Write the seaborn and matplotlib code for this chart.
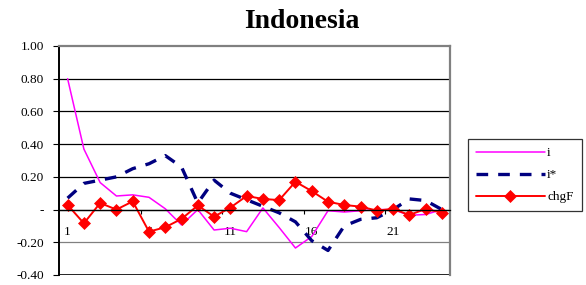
import pandas as pd
import matplotlib
matplotlib.use("Agg")
import matplotlib.pyplot as plt
import matplotlib.ticker as mticker
import seaborn as sns

# --- data ---
periods = list(range(1, 25))
i_vals = [0.80, 0.37, 0.165, 0.083, 0.09, 0.075, 0.005, -0.094, 0.0, -0.125, -0.114, -0.135,
          0.01, -0.11, -0.235, -0.165, -0.007, -0.015, -0.007, 0.0, 0.0, -0.035, -0.03, 0.0]
istar_vals = [0.07, 0.16, 0.18, 0.20, 0.25, 0.28, 0.33, 0.26, 0.04, 0.18, 0.10, 0.06,
              0.02, -0.02, -0.075, -0.19, -0.25, -0.10, -0.06, -0.05, 0.0, 0.065, 0.055, 0.0]
chgf_vals = [0.028, -0.084, 0.04, 0.0, 0.05, -0.135, -0.108, -0.057, 0.025, -0.043, 0.012, 0.083,
             0.065, 0.058, 0.17, 0.113, 0.048, 0.028, 0.018, -0.006, 0.004, -0.033, 0.004, -0.019]
y_ticks = [-0.4, -0.2, 0.0, 0.2, 0.4, 0.6, 0.8, 1.0]
y_labels = ["-0.40", "-0.20", "-", "0.20", "0.40", "0.60", "0.80", "1.00"]
x_labels = ["1", "6", "11", "16", "21"]

df = pd.DataFrame({"period": periods, "i": i_vals, "i*": istar_vals, "chgF": chgf_vals})

sns.set_style("white")
plt.rcParams["font.family"] = ["Liberation Serif", "DejaVu Serif"]
plt.rcParams["text.color"] = "black"
plt.rcParams["xtick.color"] = "black"
plt.rcParams["ytick.color"] = "black"

fig = plt.figure(figsize=(5.86, 2.85), dpi=100)
ax = fig.add_axes([0.1015, 0.0351, 0.768 - 0.1015, 0.8386 - 0.0351])

sns.lineplot(data=df, x="period", y="i", ax=ax, color="#FF00FF", linewidth=1.1, label="i")
sns.lineplot(data=df, x="period", y="i*", ax=ax, color="#000080", linewidth=2.4,
             linestyle=(0, (3.5, 3.0)), label="i*")
sns.lineplot(data=df, x="period", y="chgF", ax=ax, color="#FF0000", linewidth=1.4,
             marker="D", markersize=6.5, markeredgewidth=0.5, markeredgecolor="#FF0000", label="chgF")

ax.set_xlim(0.5, 24.5)
ax.set_ylim(-0.4, 1.0)
ax.set_xlabel("")
ax.set_ylabel("")

# y axis
ax.set_yticks(y_ticks)
ax.yaxis.set_major_formatter(mticker.FixedFormatter(y_labels))
ax.tick_params(axis="y", direction="out", length=4, width=0.8, color="black",
               labelsize=9.5, pad=7, left=True, labelcolor="black")
for y in y_ticks[1:-1]:
    ax.axhline(y, color="black" if y != -0.2 else "#808080", linewidth=0.9, zorder=0)
ax.axhline(-0.4, color="black", linewidth=1.2, zorder=0)

# x axis crosses at zero
ax.spines["bottom"].set_position(("data", 0))
ax.spines["bottom"].set_color("black")
ax.spines["bottom"].set_linewidth(0.9)
ax.spines["left"].set_color("black")
ax.spines["left"].set_linewidth(1.4)
for side in ["top", "right"]:
    ax.spines[side].set_color("#808080")
    ax.spines[side].set_linewidth(1.6)

ax.xaxis.set_major_locator(mticker.FixedLocator([5.5, 10.5, 15.5, 20.5]))
ax.xaxis.set_major_formatter(mticker.NullFormatter())
ax.xaxis.set_minor_locator(mticker.FixedLocator([int(s) for s in x_labels]))
ax.xaxis.set_minor_formatter(mticker.FixedFormatter(x_labels))
ax.tick_params(axis="x", which="major", direction="out", length=3, width=0.8, color="black", bottom=True)
ax.tick_params(axis="x", which="minor", length=0, labelsize=9.5, pad=12, bottom=True,
               labelcolor="black")

ax.legend_.remove()
handles, labels = ax.get_legend_handles_labels()
leg = fig.legend(handles, labels, loc="upper left", bbox_to_anchor=(468 / 586, 1 - 139 / 285),
                 frameon=True, fancybox=False, fontsize=9.5, handlelength=5.2, handletextpad=0.2,
                 labelspacing=0.75, borderpad=0.6, borderaxespad=0, labelcolor="black")
leg.get_frame().set_edgecolor("black")
leg.get_frame().set_linewidth(0.9)

fig.text(302 / 586, 1 - 22 / 285, "Indonesia", ha="center", va="center",
         fontsize=20, fontweight="bold", color="black")

fig.savefig("out.png", dpi=100)
